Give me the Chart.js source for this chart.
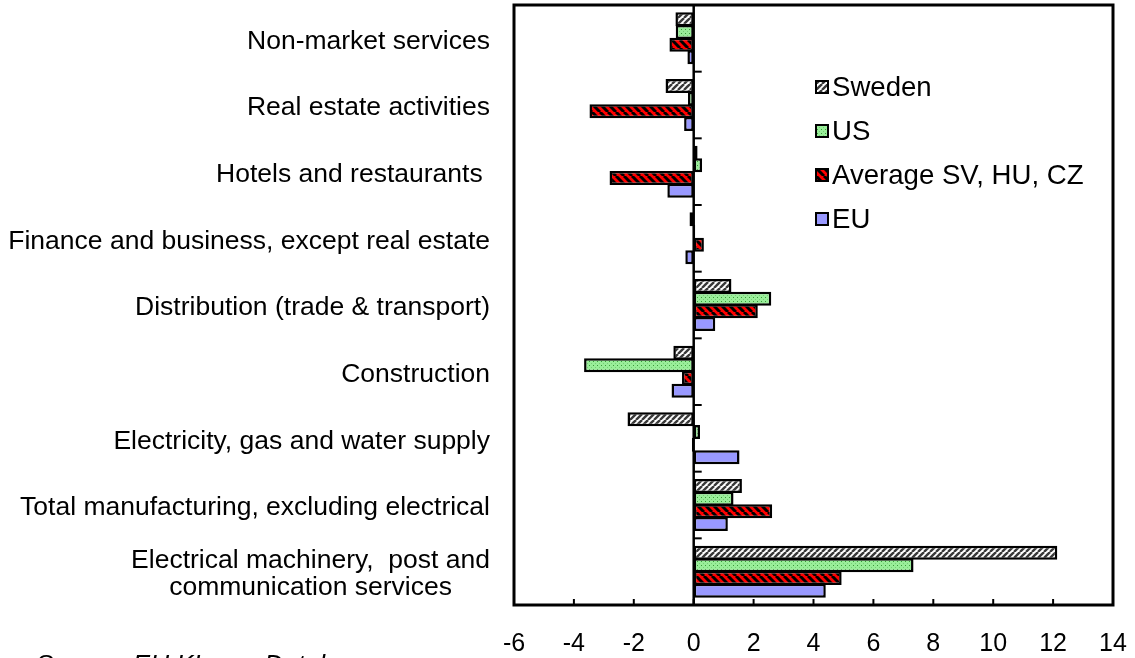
<!DOCTYPE html>
<html>
<head>
<meta charset="utf-8">
<script src="https://cdn.jsdelivr.net/npm/chart.js@4.4.0/dist/chart.umd.min.js"></script>
<style>
  html, body { margin: 0; padding: 0; background: #fff; }
  #wrap { width: 1135px; height: 658px; }
</style>
</head>
<body>
<div id="wrap"><canvas id="myChart" width="1135" height="658"></canvas></div>
<script>
// industries, top to bottom
const categories = [
  'Non-market services',
  'Real estate activities',
  'Hotels and restaurants ',
  'Finance and business, except real estate',
  'Distribution (trade & transport)',
  'Construction',
  'Electricity, gas and water supply',
  'Total manufacturing, excluding electrical',
  ['Electrical machinery,  post and', 'communication services']
];

const sweden  = [-0.61, -0.94,  0.13, -0.14, 1.26, -0.68, -2.21, 1.61, 12.14];
const us      = [-0.60, -0.19,  0.28,  0.05, 2.59, -3.66,  0.21, 1.33,  7.34];
const average = [-0.81, -3.48, -2.81,  0.34, 2.14, -0.39, -0.06, 2.62,  4.94];
const eu      = [-0.21, -0.32, -0.88, -0.28, 0.72, -0.74,  1.53, 1.14,  4.41];

const seriesNames = ['Sweden', 'US', 'Average SV, HU, CZ', 'EU'];
const xTicks = [-6, -4, -2, 0, 2, 4, 6, 8, 10, 12, 14];

const FONT = '"Liberation Sans", Arial, sans-serif';

// fill patterns
function makePattern(size, paint) {
  const c = document.createElement('canvas');
  c.width = size; c.height = size;
  const g = c.getContext('2d');
  paint(g, size);
  return g.createPattern(c, 'repeat');
}

const swedenFill = makePattern(6, (g, s) => {
  g.fillStyle = '#ffffff';
  g.fillRect(0, 0, s, s);
  g.strokeStyle = '#383838';
  g.lineWidth = 2.4;
  for (let k = -1; k <= 1; k++) {
    g.beginPath();
    g.moveTo(k * s, s);
    g.lineTo(k * s + s, 0);
    g.stroke();
  }
});

const usFill = makePattern(4, (g, s) => {
  g.fillStyle = '#99ee99';
  g.fillRect(0, 0, s, s);
  g.fillStyle = '#3a9a3a';
  g.fillRect(1, 1, 1, 1);
  g.fillStyle = '#77cc77';
  g.fillRect(3, 3, 1, 1);
});

const averageFill = makePattern(8, (g, s) => {
  g.fillStyle = '#ff0000';
  g.fillRect(0, 0, s, s);
  g.strokeStyle = '#000000';
  g.lineWidth = 3;
  for (let k = -1; k <= 1; k++) {
    g.beginPath();
    g.moveTo(k * s, 0);
    g.lineTo(k * s + s, s);
    g.stroke();
  }
});

const euFill = '#9999ff';
const fills = [swedenFill, usFill, averageFill, euFill];

// bars slightly thicker than their slot so neighbouring borders merge
function series(label, values, fill) {
  return {
    label,
    data: values,
    backgroundColor: fill,
    borderColor: '#000000',
    borderWidth: 2.5,
    borderSkipped: false,
    categoryPercentage: 0.76,
    barPercentage: 1.1
  };
}

const data = {
  labels: categories,
  datasets: [
    series(seriesNames[0], sweden, swedenFill),
    series(seriesNames[1], us, usFill),
    series(seriesNames[2], average, averageFill),
    series(seriesNames[3], eu, euFill)
  ]
};

// frame, zero line and inward tick marks
const axesLines = {
  id: 'axesLines',
  afterDatasetsDraw(chart) {
    const {ctx, chartArea: {top, bottom, left, right}, scales: {x, y}} = chart;
    const x0 = x.getPixelForValue(0);
    ctx.save();
    ctx.strokeStyle = '#000';
    ctx.lineWidth = 2.5;
    ctx.beginPath();
    ctx.moveTo(x0, top);
    ctx.lineTo(x0, bottom);
    ctx.stroke();
    // category boundary ticks on the zero line
    ctx.lineWidth = 2;
    const n = categories.length;
    for (let i = 1; i < n; i++) {
      const yy = (y.getPixelForValue(i - 1) + y.getPixelForValue(i)) / 2;
      ctx.beginPath();
      ctx.moveTo(x0, yy);
      ctx.lineTo(x0 + 8, yy);
      ctx.stroke();
    }
    // value ticks on the bottom edge
    xTicks.forEach(v => {
      const xx = x.getPixelForValue(v);
      ctx.beginPath();
      ctx.moveTo(xx, bottom);
      ctx.lineTo(xx, bottom - 6);
      ctx.stroke();
    });
    ctx.lineWidth = 3;
    ctx.strokeRect(left, top, right - left, bottom - top);
    ctx.restore();
  }
};

// category names, legend and source note
const annotations = {
  id: 'annotations',
  afterDraw(chart) {
    const {ctx, scales: {y}} = chart;
    ctx.save();
    ctx.fillStyle = '#000';
    ctx.font = '26.5px ' + FONT;
    ctx.textBaseline = 'middle';
    const rightEdge = 490;
    categories.forEach((lab, i) => {
      const cy = y.getPixelForValue(i) + 3;
      if (Array.isArray(lab)) {
        const w = Math.max(...lab.map(s => ctx.measureText(s).width));
        const cx = rightEdge - w / 2;
        ctx.textAlign = 'center';
        const lh = 27;
        lab.forEach((s, j) => {
          ctx.fillText(s, cx, cy + (j - (lab.length - 1) / 2) * lh);
        });
      } else {
        ctx.textAlign = 'right';
        ctx.fillText(lab, rightEdge, cy);
      }
    });

    // legend
    ctx.textAlign = 'left';
    ctx.font = '27.6px ' + FONT;
    seriesNames.forEach((name, i) => {
      const ly = 87 + i * 44;
      ctx.fillStyle = fills[i];
      ctx.fillRect(816, ly - 6, 12, 12);
      ctx.strokeStyle = '#000';
      ctx.lineWidth = 2;
      ctx.strokeRect(816, ly - 6, 12, 12);
      ctx.fillStyle = '#000';
      ctx.fillText(name, 832, ly + 1);
    });

    ctx.font = 'italic 26px ' + FONT;
    ctx.textBaseline = 'alphabetic';
    ctx.fillText('Source: EU KLems Database', 36, 673);
    ctx.restore();
  }
};

const config = {
  type: 'bar',
  data,
  options: {
    indexAxis: 'y',
    responsive: false,
    animation: false,
    devicePixelRatio: 1,
    layout: {
      padding: {left: 514, right: 22, top: 5, bottom: 5}
    },
    scales: {
      x: {
        min: -6,
        max: 14,
        afterBuildTicks: (scale) => { scale.ticks = xTicks.map(v => ({value: v})); },
        afterFit: (scale) => {
          scale.height = 48;
          scale.paddingLeft = 0;
          scale.paddingRight = 0;
        },
        ticks: {
          color: '#000',
          padding: 16,
          maxRotation: 0,
          font: {family: FONT, size: 25}
        },
        grid: {display: false},
        border: {display: false}
      },
      y: {
        display: false,
        grid: {display: false}
      }
    },
    plugins: {
      legend: {display: false},
      tooltip: {enabled: false}
    }
  },
  plugins: [axesLines, annotations]
};

const myChart = new Chart(document.getElementById('myChart'), config);
</script>
</body>
</html>
